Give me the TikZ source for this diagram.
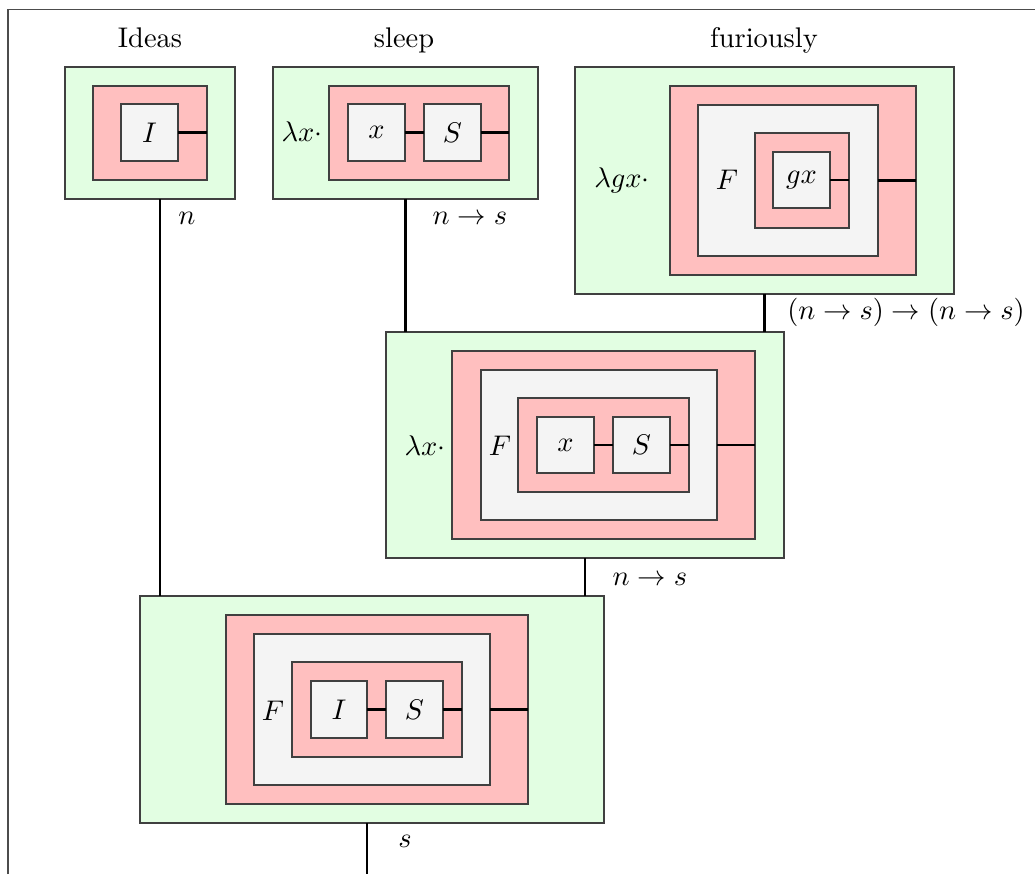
\documentclass[tikz,border=0pt]{standalone}
\usetikzlibrary{fit}
\definecolor{lamgreen}{HTML}{E2FEE2}
\definecolor{gatepink}{HTML}{FFBFBF}
\definecolor{wordgray}{HTML}{F4F4F4}
\begin{document}
\begin{tikzpicture}[x=0.352pt, y=-0.352pt,
        box/.style={draw=black!75, thin, inner sep=0pt, outer sep=0pt},
        greenbox/.style={box, fill=lamgreen},
        pinkbox/.style={box, fill=gatepink},
        graybox/.style={box, fill=wordgray},
        word/.style={graybox, label={center:#1}},
        wire/.style={thick, line cap=butt},
        lbl/.style={anchor=base, inner sep=0pt}]
        \useasboundingbox (0,0) rectangle (1035,874);
        \draw[black!70, thin] (8,874) -- (8,9.5) -- (1035,9.5);

        % Ideas
        \node[lbl] (tIdeas) at (150,48) {Ideas};
        \node[greenbox, fit={(65,67) (235,199)}] (gIdeas) {};
        \node[pinkbox, fit={(93,86) (207,180)}] (pIdeas) {};
        \node[word=$I$, fit={(121,104) (178,161)}] (bI) {};
        \draw[wire] (bI.east) -- (bI.east -| pIdeas.east);
        \node[lbl] (lN) at (187,225) {$n$};

        % sleep
        \node[lbl] (tSleep) at (404,48) {sleep};
        \node[greenbox, fit={(273,67) (538,199)}] (gSleep) {};
        \node[lbl] (lamSleep) at (302,142) {$\lambda x\cdot$};
        \node[pinkbox, fit={(329,86) (509,180)}] (pSleep) {};
        \node[word=$x$, fit={(348,104) (405,161)}] (bSx) {};
        \node[word=$S$, fit={(424,104) (481,161)}] (bSS) {};
        \draw[wire] (bSx.east) -- (bSS.west);
        \draw[wire] (bSS.east) -- (bSS.east -| pSleep.east);
        \node[lbl] (lNS) at (470,225) {$n \to s$};

        % furiously
        \node[lbl] (tFur) at (764,48) {furiously};
        \node[greenbox, fit={(575,67) (954,294)}] (gFur) {};
        \node[lbl] (lamFur) at (622,188) {$\lambda g x\cdot$};
        \node[pinkbox, fit={(670,86) (916,275)}] (pFur) {};
        \node[graybox, fit={(698,105) (878,256)}] (fFur) {};
        \node[lbl] (tFF) at (727,190) {$F$};
        \node[pinkbox, fit={(755,133) (849,228)}] (qFur) {};
        \node[word=$gx$, fit={(773,152) (830,208)}] (bGx) {};
        \draw[wire] (bGx.east) -- (bGx.east -| qFur.east);
        \draw[wire] (fFur.east) -- (fFur.east -| pFur.east);
        \node[lbl] (lFur) at (906,320) {$(n \to s) \to (n \to s)$};

        % sleep furiously
        \node[greenbox, fit={(386,332) (784,558)}] (gMid) {};
        \node[lbl] (lamMid) at (425,455) {$\lambda x\cdot$};
        \node[pinkbox, fit={(452,351) (755,539)}] (pMid) {};
        \node[graybox, fit={(481,370) (717,520)}] (fMid) {};
        \node[lbl] (tFM) at (500,455) {$F$};
        \node[pinkbox, fit={(518,398) (689,492)}] (qMid) {};
        \node[word=$x$, fit={(537,417) (594,473)}] (bMx) {};
        \node[word=$S$, fit={(613,417) (670,473)}] (bMS) {};
        \draw[wire] (bMx.east) -- (bMS.west);
        \draw[wire] (bMS.east) -- (bMS.east -| qMid.east);
        \draw[wire] (fMid.east) -- (fMid.east -| pMid.east);
        \node[lbl] (lMid) at (650,585) {$n \to s$};

        % Ideas sleep furiously
        \node[greenbox, fit={(140,596) (604,823)}] (gBot) {};
        \node[pinkbox, fit={(226,615) (528,804)}] (pBot) {};
        \node[graybox, fit={(254,634) (490,785)}] (fBot) {};
        \node[lbl] (tFB) at (273,720) {$F$};
        \node[pinkbox, fit={(292,662) (462,757)}] (qBot) {};
        \node[word=$I$, fit={(311,681) (367,738)}] (bBI) {};
        \node[word=$S$, fit={(386,681) (443,738)}] (bBS) {};
        \draw[wire] (bBI.east) -- (bBS.west);
        \draw[wire] (bBS.east) -- (bBS.east -| qBot.east);
        \draw[wire] (fBot.east) -- (fBot.east -| pBot.east);
        \node[lbl] (lBot) at (405,847) {$s$};

        % wires between boxes
        \coordinate (out) at (367,874);
        \draw[wire] ([xshift=3.5pt]gIdeas.south) -- ([xshift=3.5pt]gIdeas.south |- gBot.north);
        \draw[wire] (gSleep.south) -- (gSleep.south |- gMid.north);
        \draw[wire] (gFur.south) -- (gFur.south |- gMid.north);
        \draw[wire] (gMid.south) -- (gMid.south |- gBot.north);
        \draw[wire] (gBot.south -| out) -- (out);
\end{tikzpicture}
\end{document}
